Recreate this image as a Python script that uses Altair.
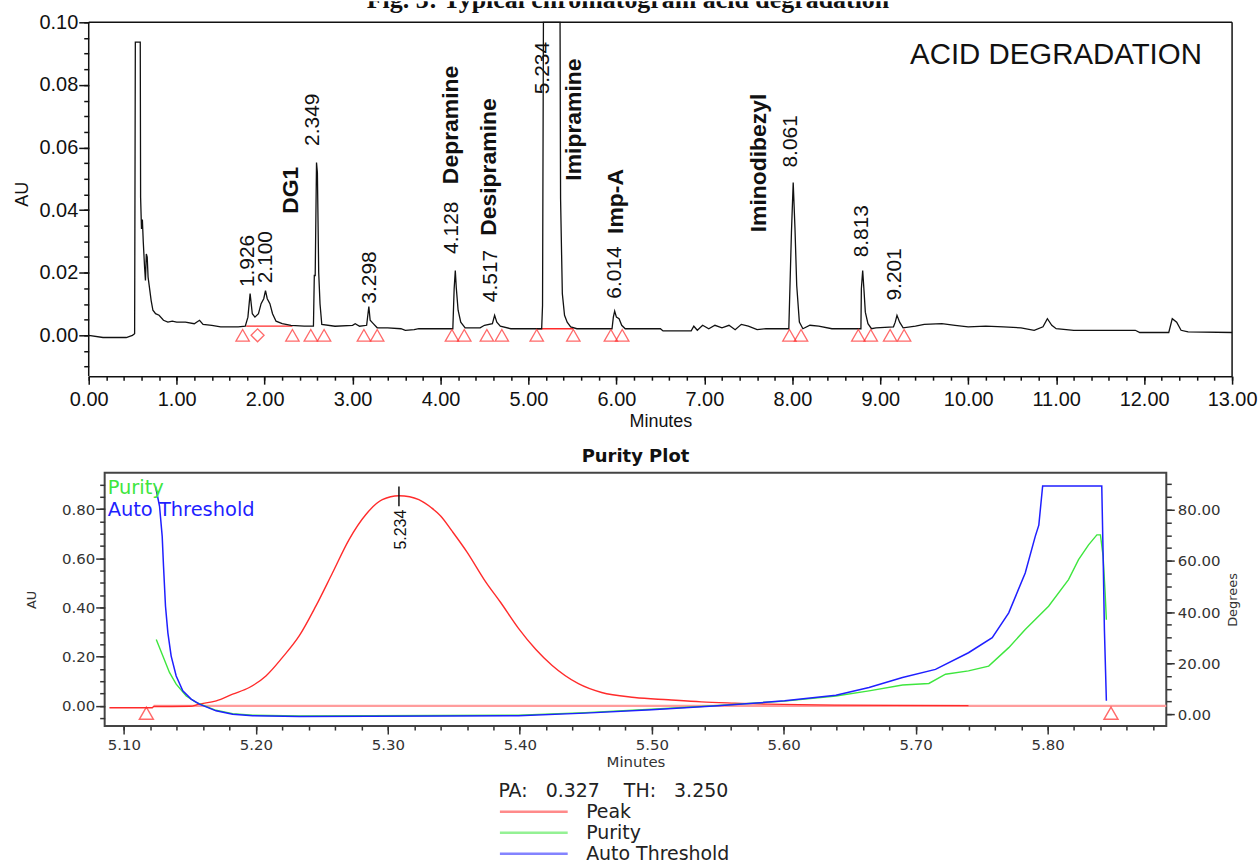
import altair as alt
import pandas as pd

# ================= TOP PANEL : chromatogram =================
trace_t = [0.000, 0.162, 0.427, 0.497, 0.522, 0.530, 0.586, 0.590, 0.600, 0.610,
           0.620, 0.635, 0.645, 0.655, 0.665, 0.675, 0.690, 0.710, 0.730, 0.760,
           0.800, 0.850, 0.900, 0.950, 1.000, 1.100, 1.200, 1.260, 1.300, 1.400,
           1.500, 1.700, 1.780, 1.810, 1.835, 1.860, 1.890, 1.930, 1.960, 1.990,
           2.010, 2.030, 2.060, 2.090, 2.130, 2.200, 2.300, 2.450, 2.555, 2.565,
           2.575, 2.590, 2.600, 2.615, 2.630, 2.650, 2.800, 3.000, 3.030, 3.080,
           3.160, 3.185, 3.200, 3.230, 3.280, 3.400, 3.550, 3.600, 3.700, 3.753,
           4.100, 4.140, 4.155, 4.168, 4.180, 4.200, 4.230, 4.280, 4.450, 4.500,
           4.590, 4.615, 4.640, 4.680, 4.800, 5.150, 5.160, 5.170, 5.359, 5.365,
           5.385, 5.410, 5.440, 5.480, 5.550, 5.950, 5.965, 5.980, 6.000, 6.030,
           6.060, 6.100, 6.500, 6.530, 6.850, 6.880, 6.920, 6.980, 7.050, 7.120,
           7.200, 7.280, 7.350, 7.420, 7.500, 7.600, 7.700, 7.960, 7.990, 8.010,
           8.030, 8.050, 8.080, 8.120, 8.200, 8.300, 8.450, 8.600, 8.780, 8.785,
           8.800, 8.815, 8.830, 8.860, 8.900, 8.950, 9.150, 9.170, 9.190, 9.220,
           9.260, 9.400, 9.500, 9.700, 9.850, 10.000, 10.200, 10.400, 10.600, 10.750,
           10.850, 10.900, 10.950, 11.000, 11.200, 11.900, 11.950, 12.280, 12.320, 12.370,
           12.420, 12.500, 13.000]
trace_au = [0.0000, -0.0007, -0.0007, 0.0000, 0.0005, 0.0937, 0.0937, 0.0440, 0.0340, 0.0370,
            0.0300, 0.0218, 0.0175, 0.0260, 0.0250, 0.0186, 0.0154, 0.0111, 0.0080, 0.0069,
            0.0064, 0.0048, 0.0042, 0.0045, 0.0042, 0.0042, 0.0037, 0.0048, 0.0035, 0.0032,
            0.0027, 0.0027, 0.0029, 0.0058, 0.0133, 0.0069, 0.0058, 0.0069, 0.0101, 0.0117,
            0.0143, 0.0117, 0.0101, 0.0069, 0.0045, 0.0037, 0.0032, 0.0029, 0.0029, 0.0191,
            0.0191, 0.0552, 0.0520, 0.0200, 0.0100, 0.0035, 0.0029, 0.0032, 0.0037, 0.0029,
            0.0032, 0.0092, 0.0048, 0.0039, 0.0024, 0.0024, 0.0021, 0.0016, 0.0018, 0.0021,
            0.0021, 0.0021, 0.0149, 0.0207, 0.0149, 0.0080, 0.0042, 0.0024, 0.0024, 0.0032,
            0.0037, 0.0064, 0.0042, 0.0029, 0.0021, 0.0021, 0.0096, 0.1000, 0.1000, 0.0436,
            0.0133, 0.0064, 0.0042, 0.0027, 0.0021, 0.0021, 0.0058, 0.0077, 0.0058, 0.0053,
            0.0032, 0.0021, 0.0021, 0.0014, 0.0014, 0.0029, 0.0016, 0.0032, 0.0021, 0.0032,
            0.0024, 0.0032, 0.0018, 0.0035, 0.0029, 0.0018, 0.0021, 0.0021, 0.0329, 0.0488,
            0.0343, 0.0159, 0.0042, 0.0021, 0.0032, 0.0029, 0.0021, 0.0021, 0.0021, 0.0149,
            0.0207, 0.0143, 0.0074, 0.0037, 0.0021, 0.0024, 0.0027, 0.0042, 0.0064, 0.0042,
            0.0024, 0.0029, 0.0035, 0.0037, 0.0032, 0.0027, 0.0029, 0.0027, 0.0024, 0.0016,
            0.0027, 0.0053, 0.0032, 0.0021, 0.0016, 0.0016, 0.0009, 0.0009, 0.0053, 0.0042,
            0.0016, 0.0011, 0.0009]

num_labels = ["1.926", "2.100", "2.349", "3.298", "4.128", "4.517", "5.234",
              "6.014", "8.061", "8.813", "9.201"]
num_t = [1.806, 2.015, 2.554, 3.195, 4.130, 4.575, 5.170, 5.983, 7.985, 8.789, 9.167]
num_au = [0.0154, 0.0166, 0.0605, 0.0101, 0.0260, 0.0106, 0.0770, 0.0117, 0.0536, 0.0249, 0.0111]

name_labels = ["DG1", "Depramine", "Desipramine", "Imipramine", "Imp-A", "Iminodibezyl"]
name_t = [2.298, 4.116, 4.546, 5.519, 5.998, 7.627]
name_au = [0.0388, 0.0483, 0.0318, 0.0494, 0.0324, 0.0329]

tri_t = [1.750, 2.316, 2.525, 2.676, 3.129, 3.280, 4.130, 4.270, 4.527, 4.697,
         5.094, 5.510, 5.937, 6.066, 7.967, 8.099, 8.750, 8.892, 9.112, 9.271]
diamond_t = [1.920]
intbase_t1 = [1.790, 5.094]
intbase_t2 = [2.316, 5.510]
intbase_au = [0.0029, 0.0021]

x1_major_vals = list(range(14))
x1_minor_vals = [round(i * 0.2, 1) for i in range(66)]
y1_major_vals = [0.0, 0.02, 0.04, 0.06, 0.08, 0.10]
y1_minor_vals = [round(-0.01 + i * 0.005, 3) for i in range(23)]

# ================= BOTTOM PANEL : purity plot =================
peak_t = [5.089, 5.1215, 5.1225, 5.150, 5.157, 5.170, 5.1824, 5.195, 5.2076, 5.220,
          5.2328, 5.2454, 5.258, 5.2706, 5.2832, 5.2958, 5.3084, 5.3165, 5.3235, 5.333,
          5.340, 5.3487, 5.360, 5.374, 5.3855, 5.399, 5.412, 5.4243, 5.4444, 5.462,
          5.487, 5.5125, 5.5376, 5.563, 5.588, 5.6385, 5.680, 5.740]
peak_au = [-0.008, -0.008, -0.003, -0.002, 0.0069, 0.020, 0.0474, 0.0745, 0.1216, 0.196,
           0.284, 0.405, 0.540, 0.676, 0.777, 0.838, 0.854, 0.850, 0.838, 0.805,
           0.772, 0.710, 0.625, 0.505, 0.420, 0.315, 0.230, 0.165, 0.090, 0.054,
           0.034, 0.0245, 0.016, 0.011, 0.0069, 0.0028, 0.0020, 0.0010]

purity_t = [5.1245, 5.1295, 5.1345, 5.1396, 5.1472, 5.1547, 5.1698, 5.1824, 5.1975, 5.2328,
            5.399, 5.4495, 5.4999, 5.550, 5.6007, 5.6395, 5.6646, 5.690, 5.710, 5.7226,
            5.740, 5.7553, 5.7705, 5.783, 5.8007, 5.8158, 5.8234, 5.831, 5.8373, 5.840,
            5.842, 5.8435, 5.8445]
purity_deg = [29.3, 22.8, 16.4, 11.8, 7.2, 4.7, 1.6, 0.3, -0.3, -0.6,
              -0.3, 0.7, 2.0, 3.5, 5.2, 7.2, 9.2, 11.5, 12.1, 15.7,
              17.0, 18.9, 26.1, 33.2, 42.3, 52.7, 60.5, 66.3, 70.2, 70.2,
              62.0, 48.0, 37.0]

thr_t = [5.124, 5.127, 5.129, 5.130, 5.1315, 5.1333, 5.1358, 5.1396, 5.1446, 5.1509,
         5.1572, 5.1698, 5.1824, 5.1975, 5.2328, 5.399, 5.4495, 5.4999, 5.550, 5.6007,
         5.6395, 5.6646, 5.690, 5.715, 5.740, 5.758, 5.7705, 5.783, 5.7906, 5.7933,
         5.7962, 5.841, 5.842, 5.843, 5.8445]
thr_deg = [89.0, 81.3, 69.6, 57.9, 42.3, 31.9, 22.8, 15.0, 9.2, 6.0,
           4.0, 1.4, 0.1, -0.5, -0.8, -0.5, 0.5, 1.8, 3.35, 5.3,
           7.5, 10.5, 14.4, 17.6, 24.1, 30.0, 39.7, 55.3, 69.6, 74.0,
           89.3, 89.3, 63.1, 33.2, 5.3]

pbase_t = [5.1225, 5.8899]
pbase_au = [0.0, 0.0]
ptri_t = [5.117, 5.848]
apex_t = [5.3084]
apex_au1 = [0.811]
apex_au2 = [0.892]
apex_label = ["5.234"]
apex_label_t = [5.3097]
apex_label_au = [0.635]

x2_major_vals = [5.1, 5.2, 5.3, 5.4, 5.5, 5.6, 5.7, 5.8]
x2_minor_vals = [round(5.10 + i * 0.02, 2) for i in range(40)]
yl_major_vals = [0.0, 0.2, 0.4, 0.6, 0.8]
yl_minor_vals = [round(-0.05 + i * 0.05, 2) for i in range(20)]
yr_major_vals = [0, 20, 40, 60, 80]
yr_minor_vals = [5 * i for i in range(19)]

series_names = ["Peak", "Purity", "Auto Threshold"]
NB = "\u00a0"
legend_title = "PA:" + NB * 3 + "0.327" + NB * 4 + "TH:" + NB * 3 + "3.250"

# ---------------- styles ----------------
INK = "#111111"
GREY = "#333333"
RED = "#ff2b2b"
GREEN = "#3ee63e"
BLUE = "#1f1fff"
W1, H1 = 1147, 376
W2, H2 = 1065, 254

# ---------------- top chart ----------------
xs1 = alt.Scale(domain=[0, 13], nice=False, zero=False)
ys1 = alt.Scale(domain=[-0.01306, 0.10669], nice=False, zero=False)

x1_major = alt.Axis(orient="bottom", values=x1_major_vals, format=".2f", tickSize=8, tickWidth=1.5,
                    tickColor=INK, labelFont="Liberation Sans", labelFontSize=20, labelColor=INK,
                    labelPadding=5, labelFlush=False, labelAlign="center", labelOverlap=False,
                    domain=True, domainColor=INK, domainWidth=1.5, grid=False, title="Minutes",
                    titleFont="Liberation Sans", titleFontSize=18, titleFontWeight="normal",
                    titleColor=INK, titlePadding=3)
x1_minor = alt.Axis(orient="bottom", values=x1_minor_vals, tickSize=4, tickWidth=1.5, tickColor=INK,
                    labels=False, domain=False, grid=False, title=None)
y1_major = alt.Axis(orient="left", values=y1_major_vals, format=".2f", tickSize=10, tickWidth=1.5,
                    tickColor=INK, labelFont="Liberation Sans", labelFontSize=20, labelColor=INK,
                    labelPadding=1, labelFlush=False, labelOverlap=False, domain=False, grid=False,
                    title="AU", titleFont="Liberation Sans", titleFontSize=18,
                    titleFontWeight="normal", titleColor=INK, titlePadding=7, titleY=193)
y1_minor = alt.Axis(orient="left", values=y1_minor_vals, tickSize=5, tickWidth=1.5, tickColor=INK,
                    labels=False, domain=False, grid=False, title=None)

trace_df = pd.DataFrame({"t": trace_t, "au": trace_au})
num_df = pd.DataFrame({"t": num_t, "au": num_au, "label": num_labels})
name_df = pd.DataFrame({"t": name_t, "au": name_au, "label": name_labels})
tri_df = pd.DataFrame({"t": tri_t, "au": 0.0})
dia_df = pd.DataFrame({"t": diamond_t, "au": 0.0})
ib_df = pd.DataFrame({"t1": intbase_t1, "t2": intbase_t2, "au": intbase_au})
frame_df = pd.DataFrame({"x1": [0, 13, 0], "x2": [0, 13, 13],
                         "y1": [-0.01306, -0.01306, 0.10], "y2": [0.10, 0.10, 0.10]})

intbase = alt.Chart(ib_df).mark_rule(color=RED, strokeWidth=1.3).encode(
    x=alt.X("t1:Q", scale=xs1, axis=None), x2="t2:Q",
    y=alt.Y("au:Q", scale=ys1, axis=None))
trace = alt.Chart(trace_df).mark_line(color=INK, strokeWidth=1.3).encode(
    x=alt.X("t:Q", scale=xs1, axis=x1_major),
    y=alt.Y("au:Q", scale=ys1, axis=y1_major))
frame = alt.Chart(frame_df).mark_rule(color=INK, strokeWidth=1.5).encode(
    x=alt.X("x1:Q", scale=xs1, axis=x1_minor), x2="x2:Q",
    y=alt.Y("y1:Q", scale=ys1, axis=y1_minor), y2="y2:Q")
tris = alt.Chart(tri_df).mark_point(shape="triangle-up", size=180, filled=False, color=RED,
                                    strokeWidth=1.3).encode(
    x=alt.X("t:Q", scale=xs1, axis=None), y=alt.Y("au:Q", scale=ys1, axis=None))
dia = alt.Chart(dia_df).mark_point(shape="diamond", size=170, filled=False, color=RED,
                                   strokeWidth=1.3).encode(
    x=alt.X("t:Q", scale=xs1, axis=None), y=alt.Y("au:Q", scale=ys1, axis=None))
nums = alt.Chart(num_df).mark_text(angle=270, align="left", baseline="middle",
                                   font="Liberation Sans", fontSize=21, color=INK).encode(
    x=alt.X("t:Q", scale=xs1, axis=None), y=alt.Y("au:Q", scale=ys1, axis=None), text="label:N")
names = alt.Chart(name_df).mark_text(angle=270, align="left", baseline="middle",
                                     font="Liberation Sans", fontSize=23, fontWeight="bold",
                                     color=INK).encode(
    x=alt.X("t:Q", scale=xs1, axis=None), y=alt.Y("au:Q", scale=ys1, axis=None), text="label:N")
acid = alt.Chart(pd.DataFrame({"s": ["ACID DEGRADATION"]})).mark_text(
    align="left", baseline="alphabetic", font="Liberation Sans", fontSize=29.5, color=INK).encode(
    x=alt.value(824), y=alt.value(63), text="s:N")
figtitle = alt.Chart(pd.DataFrame({"s": ["Fig. 3: Typical chromatogram acid degradation"]})).mark_text(
    align="center", baseline="alphabetic", font="Liberation Serif", fontSize=26, fontWeight="bold",
    color=INK, clip=True).encode(x=alt.value(541), y=alt.value(6.5), text="s:N")
anchor = alt.Chart(pd.DataFrame({"s": ["."]})).mark_text(
    align="left", baseline="top", fontSize=10, opacity=0).encode(
    x=alt.value(-89), y=alt.value(0), text="s:N")

top = alt.layer(intbase, trace, frame, tris, dia, nums, names, acid, figtitle, anchor).resolve_axis(
    x="independent", y="independent").properties(
    width=W1, height=H1, view=alt.ViewBackground(strokeOpacity=0))

# ---------------- bottom chart ----------------
xs2 = alt.Scale(domain=[5.0854, 5.8899], nice=False, zero=False)
yl = alt.Scale(domain=[-0.0823, 0.947], nice=False, zero=False)
yr = alt.Scale(domain=[-4.56, 94.42], nice=False, zero=False)
cs = alt.Scale(domain=series_names, range=[RED, GREEN, BLUE])

x2_major = alt.Axis(orient="bottom", values=x2_major_vals, format=".2f", tickSize=8, tickWidth=1.5,
                    tickColor=GREY, labelFont="DejaVu Sans", labelFontSize=15, labelColor=GREY,
                    labelPadding=4, labelFlush=False, labelAlign="center", labelOverlap=False,
                    domain=False, grid=False, title="Minutes", titleFont="DejaVu Sans",
                    titleFontSize=15, titleFontWeight="normal", titleColor=GREY, titlePadding=2)
x2_minor = alt.Axis(orient="bottom", values=x2_minor_vals, tickSize=4, tickWidth=1.5, tickColor=GREY,
                    labels=False, domain=False, grid=False, title=None)
yl_major = alt.Axis(orient="left", values=yl_major_vals, format=".2f", tickSize=9, tickWidth=1.5,
                    tickColor=GREY, labelFont="DejaVu Sans", labelFontSize=15, labelColor=GREY,
                    labelPadding=1, labelFlush=False, labelOverlap=False, domain=False, grid=False,
                    title="AU", titleFont="DejaVu Sans", titleFontSize=13, titleFontWeight="normal",
                    titleColor=GREY, titlePadding=23)
yl_minor = alt.Axis(orient="left", values=yl_minor_vals, tickSize=5, tickWidth=1.5, tickColor=GREY,
                    labels=False, domain=False, grid=False, title=None)
yr_major = alt.Axis(orient="right", values=yr_major_vals, format=".2f", tickSize=8, tickWidth=1.5,
                    tickColor=GREY, labelFont="DejaVu Sans", labelFontSize=15, labelColor=GREY,
                    labelPadding=3, labelFlush=False, labelOverlap=False, domain=False, grid=False,
                    title="Degrees", titleFont="DejaVu Sans", titleFontSize=13,
                    titleFontWeight="normal", titleColor=GREY, titleAngle=270,
                    titleBaseline="top", titlePadding=6)
yr_minor = alt.Axis(orient="right", values=yr_minor_vals, tickSize=5, tickWidth=1.5, tickColor=GREY,
                    labels=False, domain=False, grid=False, title=None)

leg = alt.Legend(title=legend_title, orient="none", legendX=411,
                 legendY=783, direction="vertical", symbolType="stroke", symbolSize=4624,
                 symbolStrokeWidth=2.5, symbolOpacity=0.55, clipHeight=20, rowPadding=1,
                 labelFont="DejaVu Sans", labelFontSize=19, labelColor="#222222", labelOffset=17,
                 labelLimit=400, titleFont="DejaVu Sans", titleFontSize=19,
                 titleFontWeight="normal", titleColor="#222222", titlePadding=1, titleLimit=600,
                 padding=0)
colr = alt.Color("series:N", scale=cs, legend=leg)

peak_df = pd.DataFrame({"t": peak_t, "au": peak_au, "series": "Peak"})
pur_df = pd.DataFrame({"t": purity_t, "deg": purity_deg, "series": "Purity"})
thr_df = pd.DataFrame({"t": thr_t, "deg": thr_deg, "series": "Auto Threshold"})
pbase_df = pd.DataFrame({"t": pbase_t, "au": pbase_au})
ptri_df = pd.DataFrame({"t": ptri_t, "au": -0.030})
apex_df = pd.DataFrame({"t": apex_t, "a1": apex_au1, "a2": apex_au2})
apexlab_df = pd.DataFrame({"t": apex_label_t, "au": apex_label_au, "label": apex_label})

pbase = alt.Chart(pbase_df).mark_line(color="#ff9c9c", strokeWidth=2.2).encode(
    x=alt.X("t:Q", scale=xs2, axis=x2_minor), y=alt.Y("au:Q", scale=yl, axis=yl_minor))
peak = alt.Chart(peak_df).mark_line(strokeWidth=1.4, interpolate="monotone").encode(
    x=alt.X("t:Q", scale=xs2, axis=x2_major), y=alt.Y("au:Q", scale=yl, axis=yl_major), color=colr)
ptri = alt.Chart(ptri_df).mark_point(shape="triangle-up", size=200, filled=False, color=RED,
                                     strokeWidth=1.4).encode(
    x=alt.X("t:Q", scale=xs2, axis=None), y=alt.Y("au:Q", scale=yl, axis=None))
apex = alt.Chart(apex_df).mark_rule(color=INK, strokeWidth=1.5).encode(
    x=alt.X("t:Q", scale=xs2, axis=None), y=alt.Y("a1:Q", scale=yl, axis=None), y2="a2:Q")
apexlab = alt.Chart(apexlab_df).mark_text(angle=270, align="left", baseline="middle",
                                          font="Liberation Sans", fontSize=16, color=INK).encode(
    x=alt.X("t:Q", scale=xs2, axis=None), y=alt.Y("au:Q", scale=yl, axis=None), text="label:N")
pur = alt.Chart(pur_df).mark_line(strokeWidth=1.4).encode(
    x=alt.X("t:Q", scale=xs2, axis=None), y=alt.Y("deg:Q", scale=yr, axis=yr_minor), color=colr)
thr = alt.Chart(thr_df).mark_line(strokeWidth=1.5).encode(
    x=alt.X("t:Q", scale=xs2, axis=None), y=alt.Y("deg:Q", scale=yr, axis=yr_major), color=colr)
lab_pur = alt.Chart(pd.DataFrame({"s": ["Purity"]})).mark_text(
    align="left", baseline="alphabetic", font="DejaVu Sans", fontSize=19.5, color=GREEN).encode(
    x=alt.value(3), y=alt.value(21), text="s:N")
lab_thr = alt.Chart(pd.DataFrame({"s": ["Auto Threshold"]})).mark_text(
    align="left", baseline="alphabetic", font="DejaVu Sans", fontSize=19.5, color=BLUE).encode(
    x=alt.value(3), y=alt.value(43), text="s:N")

bottom = alt.layer(pbase, peak, ptri, apex, apexlab, pur, thr, lab_pur, lab_thr).resolve_scale(
    y="independent").resolve_axis(x="independent", y="independent").properties(
    width=W2, height=H2,
    title=alt.TitleParams("Purity Plot", font="DejaVu Sans", fontSize=18, fontWeight="bold",
                          color=INK, anchor="middle", frame="group", baseline="bottom", offset=-11),
    view=alt.ViewBackground(stroke="#444444", strokeWidth=2))

spacer = alt.Chart(pd.DataFrame({"s": [0]})).mark_point(opacity=0).encode(
    x=alt.value(0), y=alt.value(0)).properties(width=1, height=H2,
                                               view=alt.ViewBackground(strokeOpacity=0))

lower = alt.hconcat(spacer, bottom, spacing=15, bounds="flush")
chart = alt.vconcat(top, lower, spacing=97, bounds="flush").properties(
    padding={"left": 0, "top": 0, "right": 0, "bottom": 0}, background="white")

chart.save("out.html", embed_options={"renderer": "svg", "actions": False})
